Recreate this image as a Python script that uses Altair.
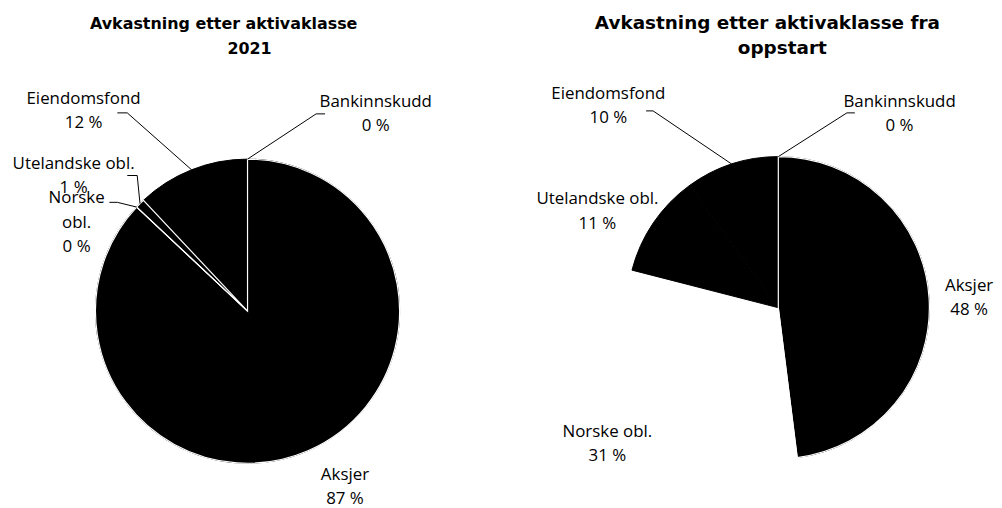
import math
import altair as alt
import pandas as pd

# ---- data ----
categories = ["Aksjer", "Norske obl.", "Utelandske obl.", "Eiendomsfond", "Bankinnskudd"]
values_2021 = [87, 0, 1, 12, 0]
values_start = [48, 31, 11, 10, 0]
title_2021 = ["Avkastning etter aktivaklasse", "2021"]
title_start = ["Avkastning etter aktivaklasse fra", "oppstart"]
fill_colors = ["#000000", "#ffffff", "#000000", "#000000", "#000000"]

PANEL_W, PANEL_H = 493, 490
LABEL_FONT = "Open Sans"
TITLE_FONT = "DejaVu Sans"

# ---- layout (page pixel coordinates; label y = first line centre) ----
left_layout = {
    "origin": (8, 8),
    "center": (249, 311.5),
    "radius": 153,
    "title": [(225, 28), (251, 53)],
    "title_size": 16,
    "labels": {
        "Aksjer": (347, 476),
        "Norske obl.": (77, 198),
        "Utelandske obl.": (74, 163),
        "Eiendomsfond": (84, 98),
        "Bankinnskudd": (378, 101),
    },
    "wrap": {"Norske obl.": "Norske\nobl."},
    "leaders": {
        "Eiendomsfond": [(118, 112), (128, 112)],
        "Bankinnskudd": [(327, 113), (318, 113)],
        "Utelandske obl.": [(128, 175), (138, 175)],
        "Norske obl.": [(110, 202), (118, 202)],
    },
    "stroked": ["Aksjer", "Utelandske obl."],
}

right_layout = {
    "origin": (8 + PANEL_W, 8),
    "center": (783, 308),
    "radius": 152,
    "title": [(772, 28), (787, 53)],
    "title_size": 18.5,
    "labels": {
        "Aksjer": (975, 286),
        "Norske obl.": (611, 433),
        "Utelandske obl.": (601, 199),
        "Eiendomsfond": (612, 93),
        "Bankinnskudd": (905, 101),
    },
    "wrap": {},
    "leaders": {
        "Eiendomsfond": [(650, 110), (657, 110)],
        "Bankinnskudd": [(860, 112), (852, 112)],
    },
    "stroked": ["Aksjer"],
}


def panel(values, title_lines, lay):
    ox, oy = lay["origin"]
    cx, cy = lay["center"][0] - ox, lay["center"][1] - oy
    r = lay["radius"]
    total = sum(values)

    pie_df = pd.DataFrame({
        "kategori": categories,
        "verdi": values,
        "rekkefolge": list(range(len(categories))),
    })
    color_scale = alt.Scale(domain=categories, range=fill_colors)
    base = alt.Chart(pie_df).encode(
        theta=alt.Theta("verdi:Q", stack=True),
        order=alt.Order("rekkefolge:Q"),
        x=alt.value(cx),
        y=alt.value(cy),
    )
    # slices, outlined in their own colour so neighbouring black slices join without seams
    pie = base.mark_arc(outerRadius=r, strokeWidth=1).encode(
        color=alt.Color("kategori:N", scale=color_scale, legend=None),
        stroke=alt.Stroke("kategori:N", scale=color_scale, legend=None),
    )
    # thin white borders only where the reference shows them
    borders = base.mark_arc(outerRadius=r, fillOpacity=0, stroke="white", strokeWidth=1.2).encode(
        strokeOpacity=alt.condition(
            alt.FieldOneOfPredicate(field="kategori", oneOf=lay["stroked"]),
            alt.value(1), alt.value(0)
        ),
    )

    # labels
    rows = []
    for name, v in zip(categories, values):
        lx, ly = lay["labels"][name]
        rows.append({
            "x": lx - ox,
            "y": ly - oy,
            "tekst": f"{lay['wrap'].get(name, name)}\n{v} %",
        })
    labels = alt.Chart(pd.DataFrame(rows)).mark_text(
        font=LABEL_FONT, fontSize=17, lineBreak="\n", lineHeight=24.5,
        align="center", baseline="middle", color="black",
    ).encode(
        x=alt.X("x:Q", scale=None, axis=None),
        y=alt.Y("y:Q", scale=None, axis=None),
        text="tekst:N",
    )

    # leader lines: label-side points from layout, end on the slice's mid-angle at the rim
    cum = 0
    mids = {}
    for name, v in zip(categories, values):
        mids[name] = (cum + v / 2) / total * 2 * math.pi
        cum += v
    lrows = []
    for name, pts in lay["leaders"].items():
        a = mids[name]
        ex, ey = cx + r * math.sin(a), cy - r * math.cos(a)
        seq = [(px - ox, py - oy) for px, py in pts] + [(ex, ey)]
        for i, (px, py) in enumerate(seq):
            lrows.append({"leder": name, "i": i, "x": px, "y": py})
    leaders = alt.Chart(pd.DataFrame(lrows)).mark_line(color="black", strokeWidth=1).encode(
        x=alt.X("x:Q", scale=None, axis=None),
        y=alt.Y("y:Q", scale=None, axis=None),
        detail="leder:N",
        order="i:Q",
    )

    trows = [{"x": tx - ox, "y": ty - oy, "tekst": t} for t, (tx, ty) in zip(title_lines, lay["title"])]
    title = alt.Chart(pd.DataFrame(trows)).mark_text(
        font=TITLE_FONT, fontSize=lay["title_size"], fontWeight="bold", align="center",
        baseline="alphabetic", color="black",
    ).encode(
        x=alt.X("x:Q", scale=None, axis=None),
        y=alt.Y("y:Q", scale=None, axis=None),
        text="tekst:N",
    )

    return alt.layer(pie, borders, leaders, labels, title).properties(width=PANEL_W, height=PANEL_H)


chart = alt.hconcat(
    panel(values_2021, title_2021, left_layout),
    panel(values_start, title_start, right_layout),
    spacing=0,
    padding=0,
).configure_view(strokeWidth=0).properties(background="white")

chart.save("out.html", embed_options={"renderer": "svg", "actions": False})
